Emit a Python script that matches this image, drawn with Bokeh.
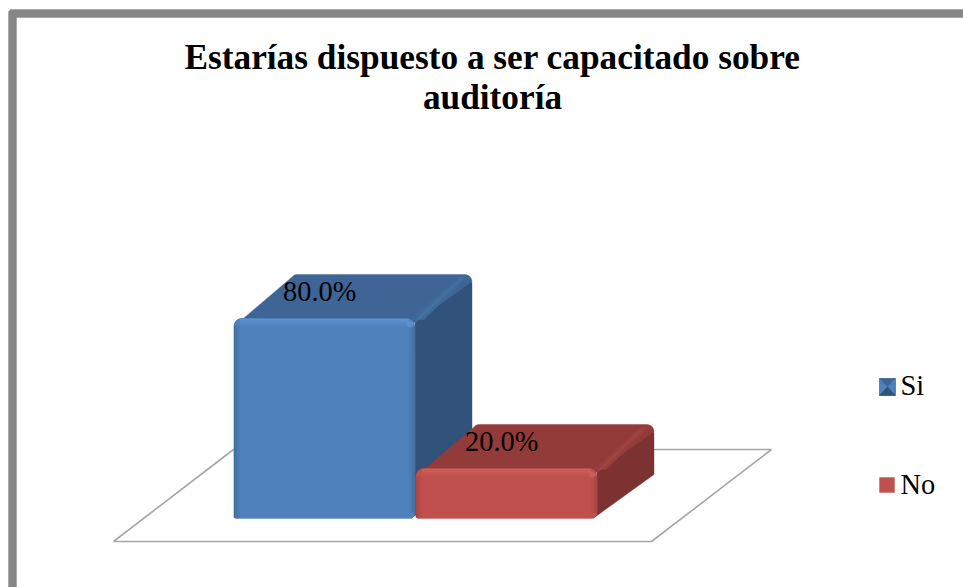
import math
from bokeh.plotting import figure
from bokeh.models import Range1d
from bokeh.core.properties import value
from bokeh.embed import file_html
from bokeh.resources import INLINE

title_lines = ["Estarías dispuesto a ser capacitado sobre", "auditoría"]
categories = ["Si", "No"]
percentages = [80.0, 20.0]
front_colors = ["#4f81bd", "#c0504d"]
light_colors = ["#5f93d1", "#cf5f5b"]
edge_colors = ["#45709f", "#ab4744"]
top_colors = ["#3e6596", "#933b39"]
top_light = ["#44709f", "#9f4543"]
side_colors = ["#31527a", "#7b3230"]
frame_color = "#868686"
floor_color = "#a6a6a6"

W, H = 963, 587
PPX, PPY = 182.0, 2.5
CX0, PY0 = 324.0, 518.0
BAR_W = 181 / PPX
DX, DY = 57.0, 44.0


def X(px):
    return (px - CX0) / PPX


def Y(py):
    return (PY0 - py) / PPY


p = figure(width=W, height=H, output_backend="svg", toolbar_location=None,
           x_range=Range1d(X(0), X(W)), y_range=Range1d(Y(H), Y(0)),
           min_border=0, outline_line_color=None, background_fill_color="white")
p.axis.visible = False
p.grid.visible = False


def poly(points, color):
    p.patch([a for a, _ in points], [b for _, b in points], fill_color=color,
            line_color=color, line_width=0.4)


def mix(c1, c2, t):
    a = [int(c1[i:i + 2], 16) for i in (1, 3, 5)]
    b = [int(c2[i:i + 2], 16) for i in (1, 3, 5)]
    return "#%02x%02x%02x" % tuple(round(u + (v - u) * t) for u, v in zip(a, b))


def arc(cx, cy, r, a0, a1, n=6):
    """Corner points in data units, r in pixels, angles in degrees (y up)."""
    return [(cx + r * math.cos(math.radians(a0 + (a1 - a0) * k / n)) / PPX,
             cy + r * math.sin(math.radians(a0 + (a1 - a0) * k / n)) / PPY)
            for k in range(n + 1)]


# frame (left and top bars only)
poly([(X(8), Y(587)), (X(16), Y(587)), (X(16), Y(17)), (X(963), Y(17)),
      (X(963), Y(9)), (X(10), Y(9)), (X(8), Y(11))], frame_color)

# floor
p.line([X(113), X(651), X(771), X(233), X(113)],
       [Y(541), Y(541), Y(449), Y(449), Y(541)],
       line_color=floor_color, line_width=1.6)


def bar(i, v):
    l = i - BAR_W / 2
    r = i + BAR_W / 2
    b = 0.0
    px = lambda d: d / PPX
    py = lambda d: d / PPY
    base, light, edge = front_colors[i], light_colors[i], edge_colors[i]
    # side face
    poly([(r, v - py(4)), (r + px(DX - 6), v + py(DY - 3)), (r + px(DX), v + py(DY - 8)),
          (r + px(DX), b + py(DY)), (r - px(4), b)], side_colors[i])
    # top face
    poly(arc(l + px(8), v - py(8), 8, 180, 90)
         + [(r, v - py(4))]
         + arc(r + px(DX - 7), v + py(DY - 7), 7, 0, 90)
         + arc(l + px(DX + 6), v + py(DY - 6), 6, 90, 140),
         top_colors[i])
    # top-face bevel along the right edge, soft
    for k, t in enumerate((0.5, 1.0, 0.5)):
        c = mix(top_colors[i], top_light[i], t)
        poly([(r + px(k * 4 - 3), v - py(1)), (r + px(DX - 14 + k * 3), v + py(DY - 3)),
              (r + px(DX - 11 + k * 3), v + py(DY - 3)), (r + px(k * 4 + 1), v - py(1))], c)
    # front face with rounded corners
    R = 8
    poly([(l, b + py(1)), (l + px(2), b)]
         + arc(r - px(6), b + py(6), 6, -90, 0)
         + arc(r - px(R), v - py(R), R, 0, 90)
         + arc(l + px(R), v - py(R), R, 90, 180), base)
    # graded bevel: top strip
    steps = 5
    for k in range(steps):
        c = mix(light, base, k / steps)
        poly([(l + px(6), v - py(k * 1.5 + 0.5)), (r - px(6), v - py(k * 1.5 + 0.5)),
              (r - px(6), v - py((k + 1) * 1.5 + 0.5)), (l + px(6), v - py((k + 1) * 1.5 + 0.5))], c)
    # left and right strips
    for k in range(4):
        c = mix(edge, base, k / 4)
        poly([(l + px(k * 1.5), b + py(1)), (l + px((k + 1) * 1.5), b + py(1)),
              (l + px((k + 1) * 1.5), v - py(8)), (l + px(k * 1.5), v - py(8))], c)
        poly([(r - px(k * 1.5), b + py(6)), (r - px((k + 1) * 1.5), b + py(6)),
              (r - px((k + 1) * 1.5), v - py(8)), (r - px(k * 1.5), v - py(8))], c)
    # highlight at the top right corner
    p.scatter([r - px(5)], [v - py(6)], size=6, marker="circle",
              fill_color=light, line_color=None, fill_alpha=0.8)
    # value label
    p.text([l + px(49)], [v + py(27)], text=[f"{v:.1f}%"], text_font=value("Liberation Serif"),
           text_font_size="28.4px", text_color="black", text_baseline="alphabetic", text_align="left")


for idx, val in enumerate(percentages):
    bar(idx, val)

# title
for line, base_y in zip(title_lines, [57, 97]):
    p.text([X(492)], [Y(base_y)], text=[line], text_font=value("Liberation Serif"),
           text_font_style="bold", text_font_size="35.3px", text_color="black",
           text_align="center", text_baseline="alphabetic")

# legend
L0, L1 = 879, 895
T0, T1 = 378, 395
mx, my = (L0 + L1) / 2, (T0 + T1) / 2
poly([(X(L0), Y(T0)), (X(L1), Y(T0)), (X(L1), Y(T1)), (X(L0), Y(T1))], side_colors[0])
poly([(X(L0), Y(T0)), (X(L1), Y(T0)), (X(mx), Y(my))], top_colors[0])
poly([(X(L0), Y(T0)), (X(mx), Y(my)), (X(L0), Y(T1))], front_colors[0])
poly([(X(L1), Y(T0)), (X(L1 - 1), Y(T1)), (X(mx), Y(my))], front_colors[0])
poly([(X(L0), Y(T1)), (X(L1), Y(T1)), (X(mx), Y(my))], side_colors[0])
poly([(X(L0), Y(477)), (X(894), Y(477)), (X(894), Y(492)), (X(L0), Y(492))], front_colors[1])
for cat, base_y in zip(categories, [385, 484]):
    p.text([X(900)], [Y(base_y)], text=[cat], text_font=value("Liberation Serif"),
           text_font_size="28.4px", text_color="black", text_align="left", text_baseline="alphabetic")

open("out.html", "w").write(file_html(p, INLINE))
